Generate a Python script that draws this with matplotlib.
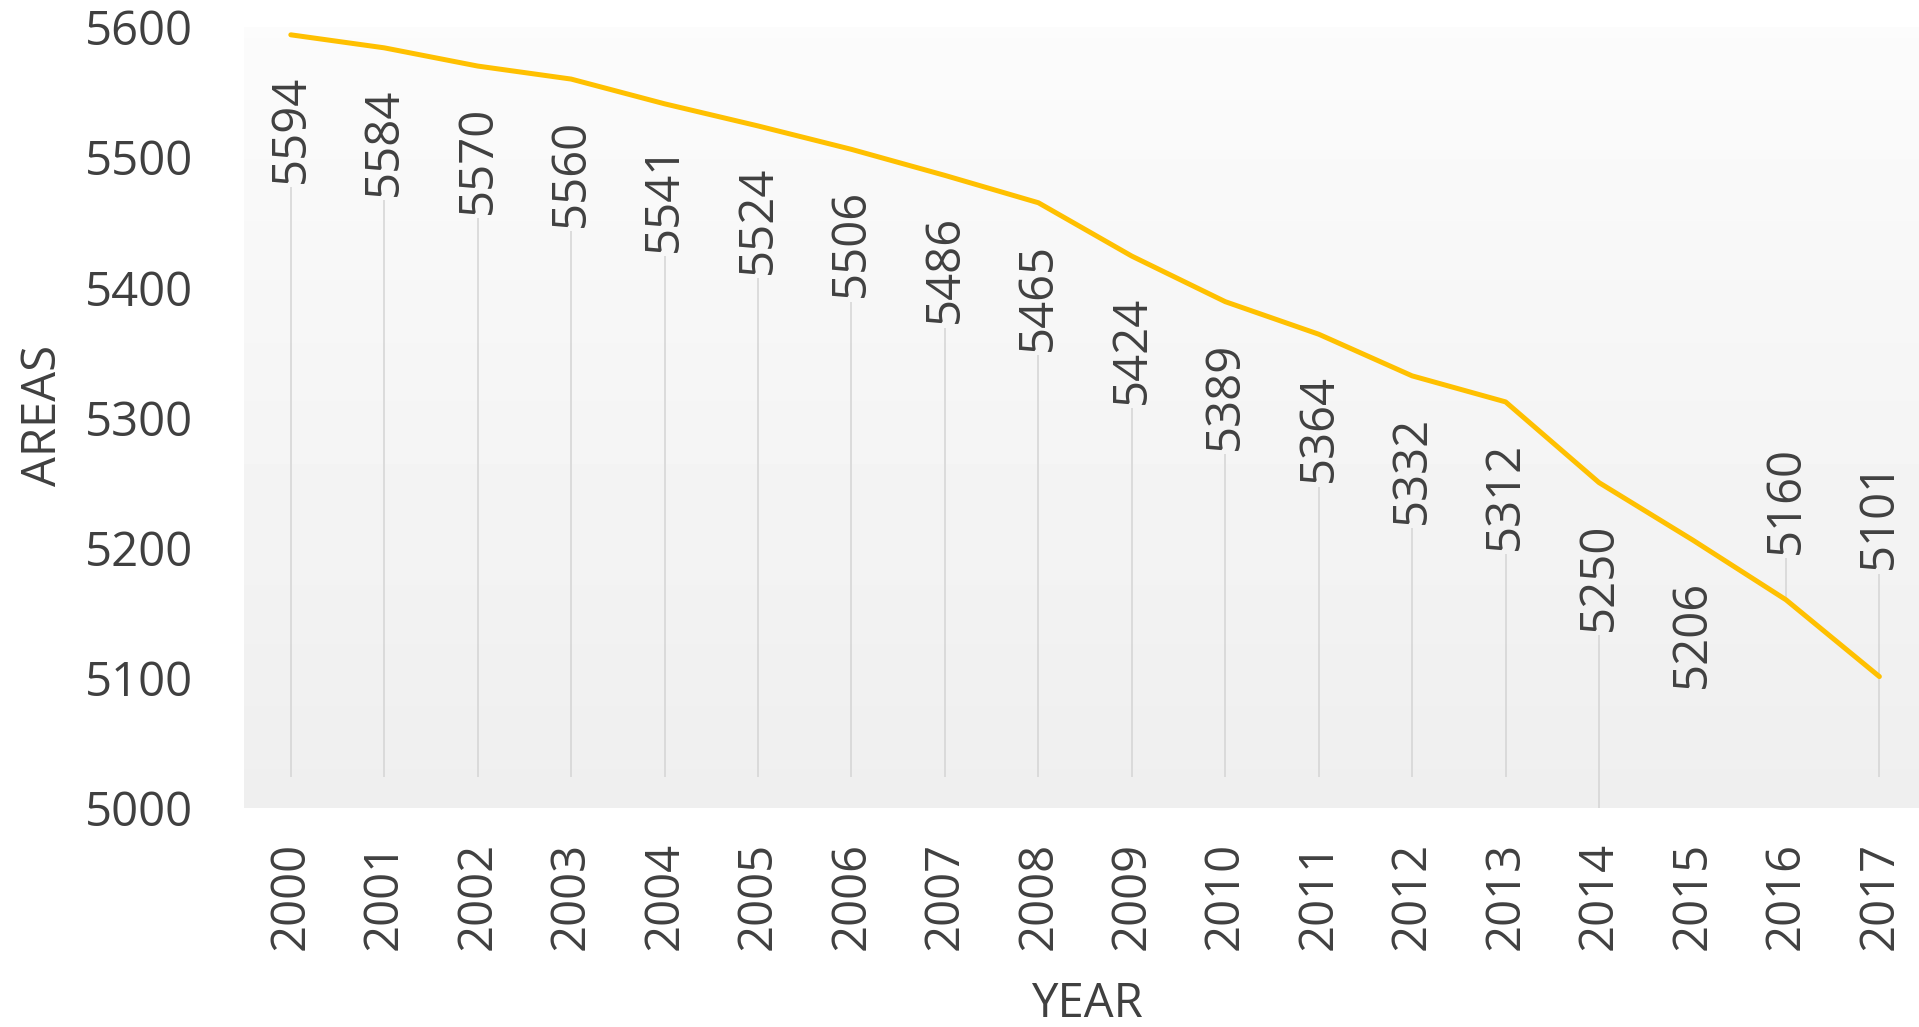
import numpy as np
import matplotlib
matplotlib.use("Agg")
from matplotlib import pyplot as plt

years = [str(y) for y in range(2000, 2018)]
areas = [5594, 5584, 5570, 5560, 5541, 5524, 5506, 5486, 5465,
         5424, 5389, 5364, 5332, 5312, 5250, 5206, 5160, 5101]

# label placement (value units, relative to the point) and leader line ends
label_shift = [-72] * 16 + [77, 124]
leader_end = [5024] * 14 + [5000, np.nan, 5160, 5024]

plt.rcParams['font.family'] = ['Open Sans', 'DejaVu Sans']
txt = '#404040'
fs = 34

fig = plt.figure(figsize=(19.19, 10.27), dpi=100)
ax = fig.add_axes([0.1272, 0.2132, 0.8765, 0.7605])
x = np.arange(len(years))

# soft grey plot area
grad = np.linspace(0.985, 0.935, 200).reshape(-1, 1)
ax.imshow(grad, cmap='gray', vmin=0, vmax=1, aspect='auto',
          extent=[-0.5, 17.5, 5000, 5600], zorder=0)

ax.plot(x, areas, color='#FFC000', lw=3.6, zorder=3, solid_capstyle='round')

half = 42  # half label height in value units
for i, v in enumerate(areas):
    cy = v + label_shift[i]
    ax.text(i, cy, str(v), rotation=90, ha='center', va='center',
            fontsize=fs, color=txt, zorder=4)
    end = leader_end[i]
    if np.isnan(end):
        continue
    ax.vlines(i, end, cy - half - 3, color='#d4d4d4', lw=1.1, zorder=2)

ax.set_xlim(-0.5, 17.5)
ax.set_ylim(5000, 5600)
ax.set_xticks(x)
ax.set_xticklabels(years, rotation=90, fontsize=fs, color=txt)
ax.set_yticks(range(5000, 5601, 100))
ax.set_yticklabels([str(v) for v in range(5000, 5601, 100)], fontsize=fs, color=txt)
ax.tick_params(axis='x', length=0, pad=24.5)
ax.tick_params(axis='y', length=0, pad=36.7)
for s in ax.spines.values():
    s.set_visible(False)

fig.text(0.0224, 0.595, 'AREAS', rotation=90, ha='center', va='center',
         fontsize=fs, color=txt)
fig.text(0.5664, 0.0224, 'YEAR', ha='center', va='center',
         fontsize=fs, color=txt)

fig.savefig('out.png', dpi=100)
